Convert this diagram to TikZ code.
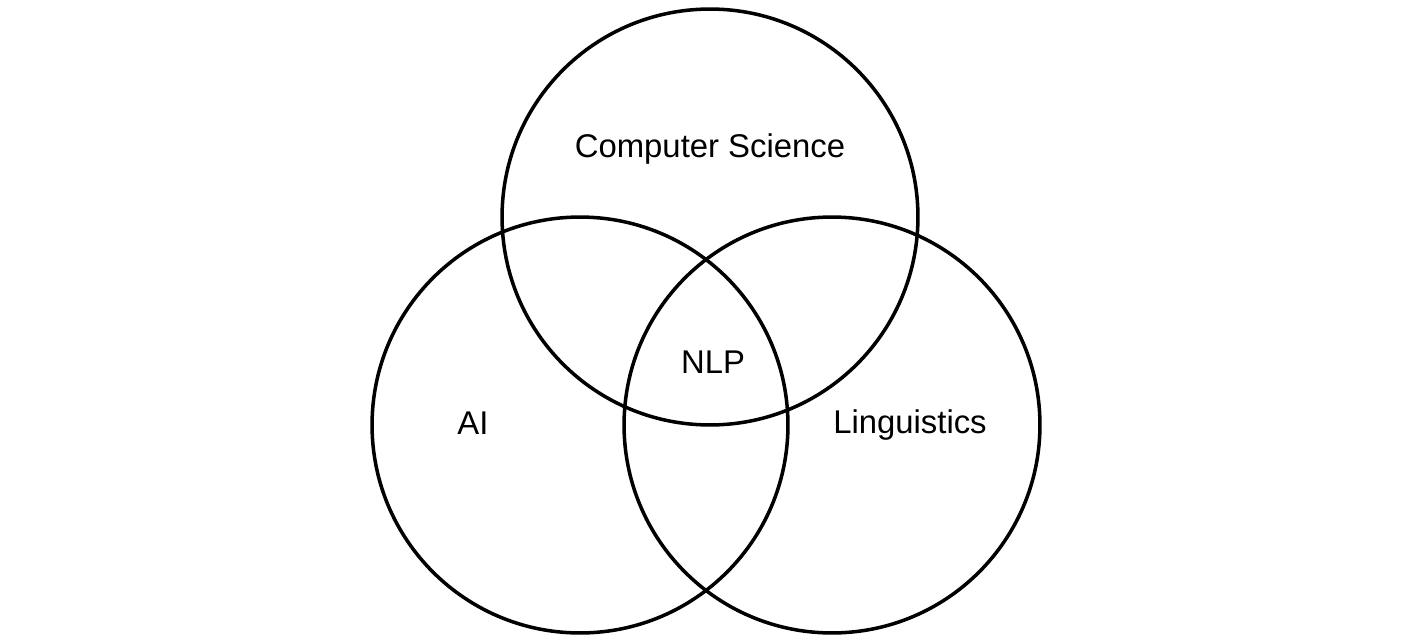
\documentclass[tikz,border=0pt]{standalone}
\usepackage{fontspec}
\setmainfont{Liberation Sans}

\begin{document}
\begin{tikzpicture}[x=0.02cm, y=-0.02cm,
	set/.style={circle, draw, line width=2pt, minimum size=8.32cm, inner sep=0pt},
	lbl/.style={font=\fontsize{18.7}{22}\selectfont, anchor=base, inner sep=0pt}]
	\useasboundingbox (0,0) rectangle (1413,639);
	\node [set] (cs) at (710,217) {};
	\node [set] (ai) at (580,425) {};
	\node [set] (ling) at (832,425) {};
	\node [lbl] (cslabel) at (710,157) {Computer Science};
	\node [lbl] (ailabel) at (473,434) {AI};
	\node [lbl] (nlplabel) at (713,373) {NLP};
	\node [lbl] (linglabel) at (910,433) {Linguistics};
\end{tikzpicture}
\end{document}
